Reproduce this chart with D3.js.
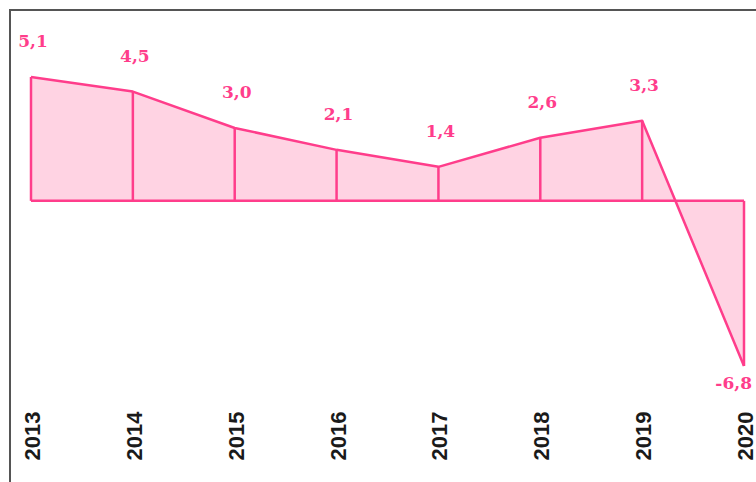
<!DOCTYPE html>
<html>
<head>
<meta charset="utf-8">
<script src="https://cdn.jsdelivr.net/npm/d3@7"></script>
<style>
  body { margin: 0; background: #fff; }
</style>
</head>
<body>
<svg id="chart" width="756" height="482"></svg>
<script>
var years = ["2013", "2014", "2015", "2016", "2017", "2018", "2019", "2020"];
var values = [5.1, 4.5, 3.0, 2.1, 1.4, 2.6, 3.3, -6.8];
var valueLabels = ["5,1", "4,5", "3,0", "2,1", "1,4", "2,6", "3,3", "-6,8"];

var svg = d3.select("#chart");
var pink = "#ff3d8b",
	fillPink = "#ffd3e3";

var x = d3.scalePoint()
		  .domain(years)
		  .range([31, 744]);
var y = d3.scaleLinear()
		  .domain([-6.8, 5.1])
		  .range([366, 77]);

var data = years.map(function(d, i) {
	return { year: d, value: values[i], label: valueLabels[i] };
});

// frame (left + top)
svg.append("path")
	.attr("d", "M10,482V10H756")
	.attr("fill", "none")
	.attr("stroke", "#555")
	.attr("stroke-width", 2);

var area = d3.area()
	.x(function(d) { return x(d.year); })
	.y0(y(0))
	.y1(function(d) { return y(d.value); });

svg.append("path")
	.datum(data)
	.attr("d", area)
	.attr("fill", fillPink)
	.attr("stroke", "none");

// vertical drop lines
svg.selectAll(".drop")
	.data(data)
	.enter().append("line")
	.attr("class", "drop")
	.attr("x1", function(d) { return x(d.year); })
	.attr("x2", function(d) { return x(d.year); })
	.attr("y1", y(0))
	.attr("y2", function(d) { return y(d.value); })
	.attr("stroke", pink)
	.attr("stroke-width", 2.5);

// baseline
svg.append("line")
	.attr("x1", x(years[0]))
	.attr("x2", x(years[years.length - 1]))
	.attr("y1", y(0))
	.attr("y2", y(0))
	.attr("stroke", pink)
	.attr("stroke-width", 2.5);

var line = d3.line()
	.x(function(d) { return x(d.year); })
	.y(function(d) { return y(d.value); });

svg.append("path")
	.datum(data)
	.attr("d", line)
	.attr("fill", "none")
	.attr("stroke", pink)
	.attr("stroke-width", 2.5)
	.attr("stroke-linejoin", "round");

// value labels
svg.selectAll(".val")
	.data(data)
	.enter().append("text")
	.attr("class", "val")
	.attr("x", function(d, i) { return i == data.length - 1 ? x(d.year) + 8 : x(d.year) + 2; })
	.attr("y", function(d) { return d.value >= 0 ? y(d.value) - 30 : y(d.value) + 23; })
	.attr("text-anchor", function(d, i) { return i == data.length - 1 ? "end" : "middle"; })
	.style("font-family", "'DejaVu Serif', 'Liberation Serif', serif")
	.style("font-weight", "bold")
	.style("font-size", "17px")
	.style("fill", pink)
	.text(function(d) { return d.label; });

// year labels (rotated)
svg.selectAll(".yr")
	.data(data)
	.enter().append("text")
	.attr("class", "yr")
	.attr("transform", function(d) { return "translate(" + (x(d.year) + 9) + ",436) rotate(-90)"; })
	.attr("text-anchor", "middle")
	.style("font-family", "'Liberation Sans', Arial, sans-serif")
	.style("font-weight", "bold")
	.style("font-size", "22px")
	.style("fill", "#1a1a1a")
	.text(function(d) { return d.year; });
</script>
</body>
</html>
